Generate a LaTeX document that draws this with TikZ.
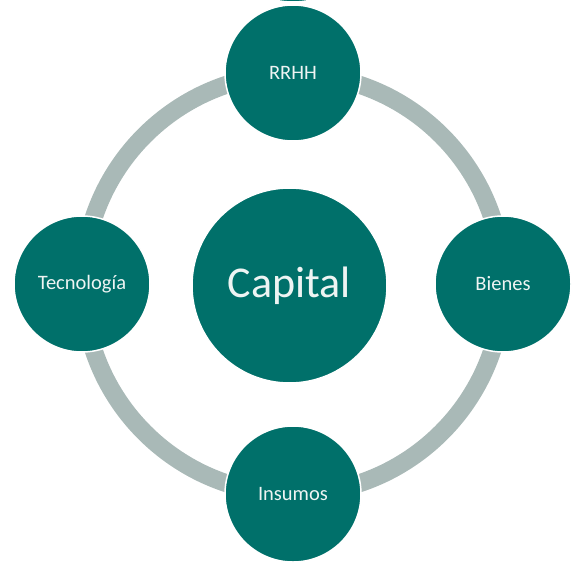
\documentclass[tikz,border=0pt]{standalone}
\usepackage{fontspec}
\setmainfont{Carlito}
\definecolor{teal1}{HTML}{00706A}
\definecolor{ringc}{HTML}{A9B9B7}
\definecolor{txtc}{HTML}{EEF4F3}
\begin{document}
\begin{tikzpicture}[x=1pt,y=-1pt,
  ball/.style={circle, fill=teal1, draw=white, line width=1.5pt, inner sep=0pt,
    text=txtc, font=\fontsize{20.5}{24}\selectfont, minimum size=136pt},
  hub/.style={ball, minimum size=195pt, font=\fontsize{44}{50}\selectfont},
  ring/.style={draw=ringc, line width=18pt}]
\useasboundingbox (0,0) rectangle (578,570);
\clip (0,0) rectangle (578,570);
\fill[teal1, draw=white, line width=1.5pt] (293,-84) circle (86);
\coordinate (c) at (293,284);
\draw[ring] (c) circle (210);
\node[hub] (cap) at (289.5,285.5) {Capital};
\node[ball] (rrhh) at (293,73) {RRHH};
\node[ball] (tec) at (82,284) {Tecnología};
\node[ball] (bie) at (503,284) {Bienes};
\node[ball] (ins) at (293,494) {Insumos};
\end{tikzpicture}
\end{document}
